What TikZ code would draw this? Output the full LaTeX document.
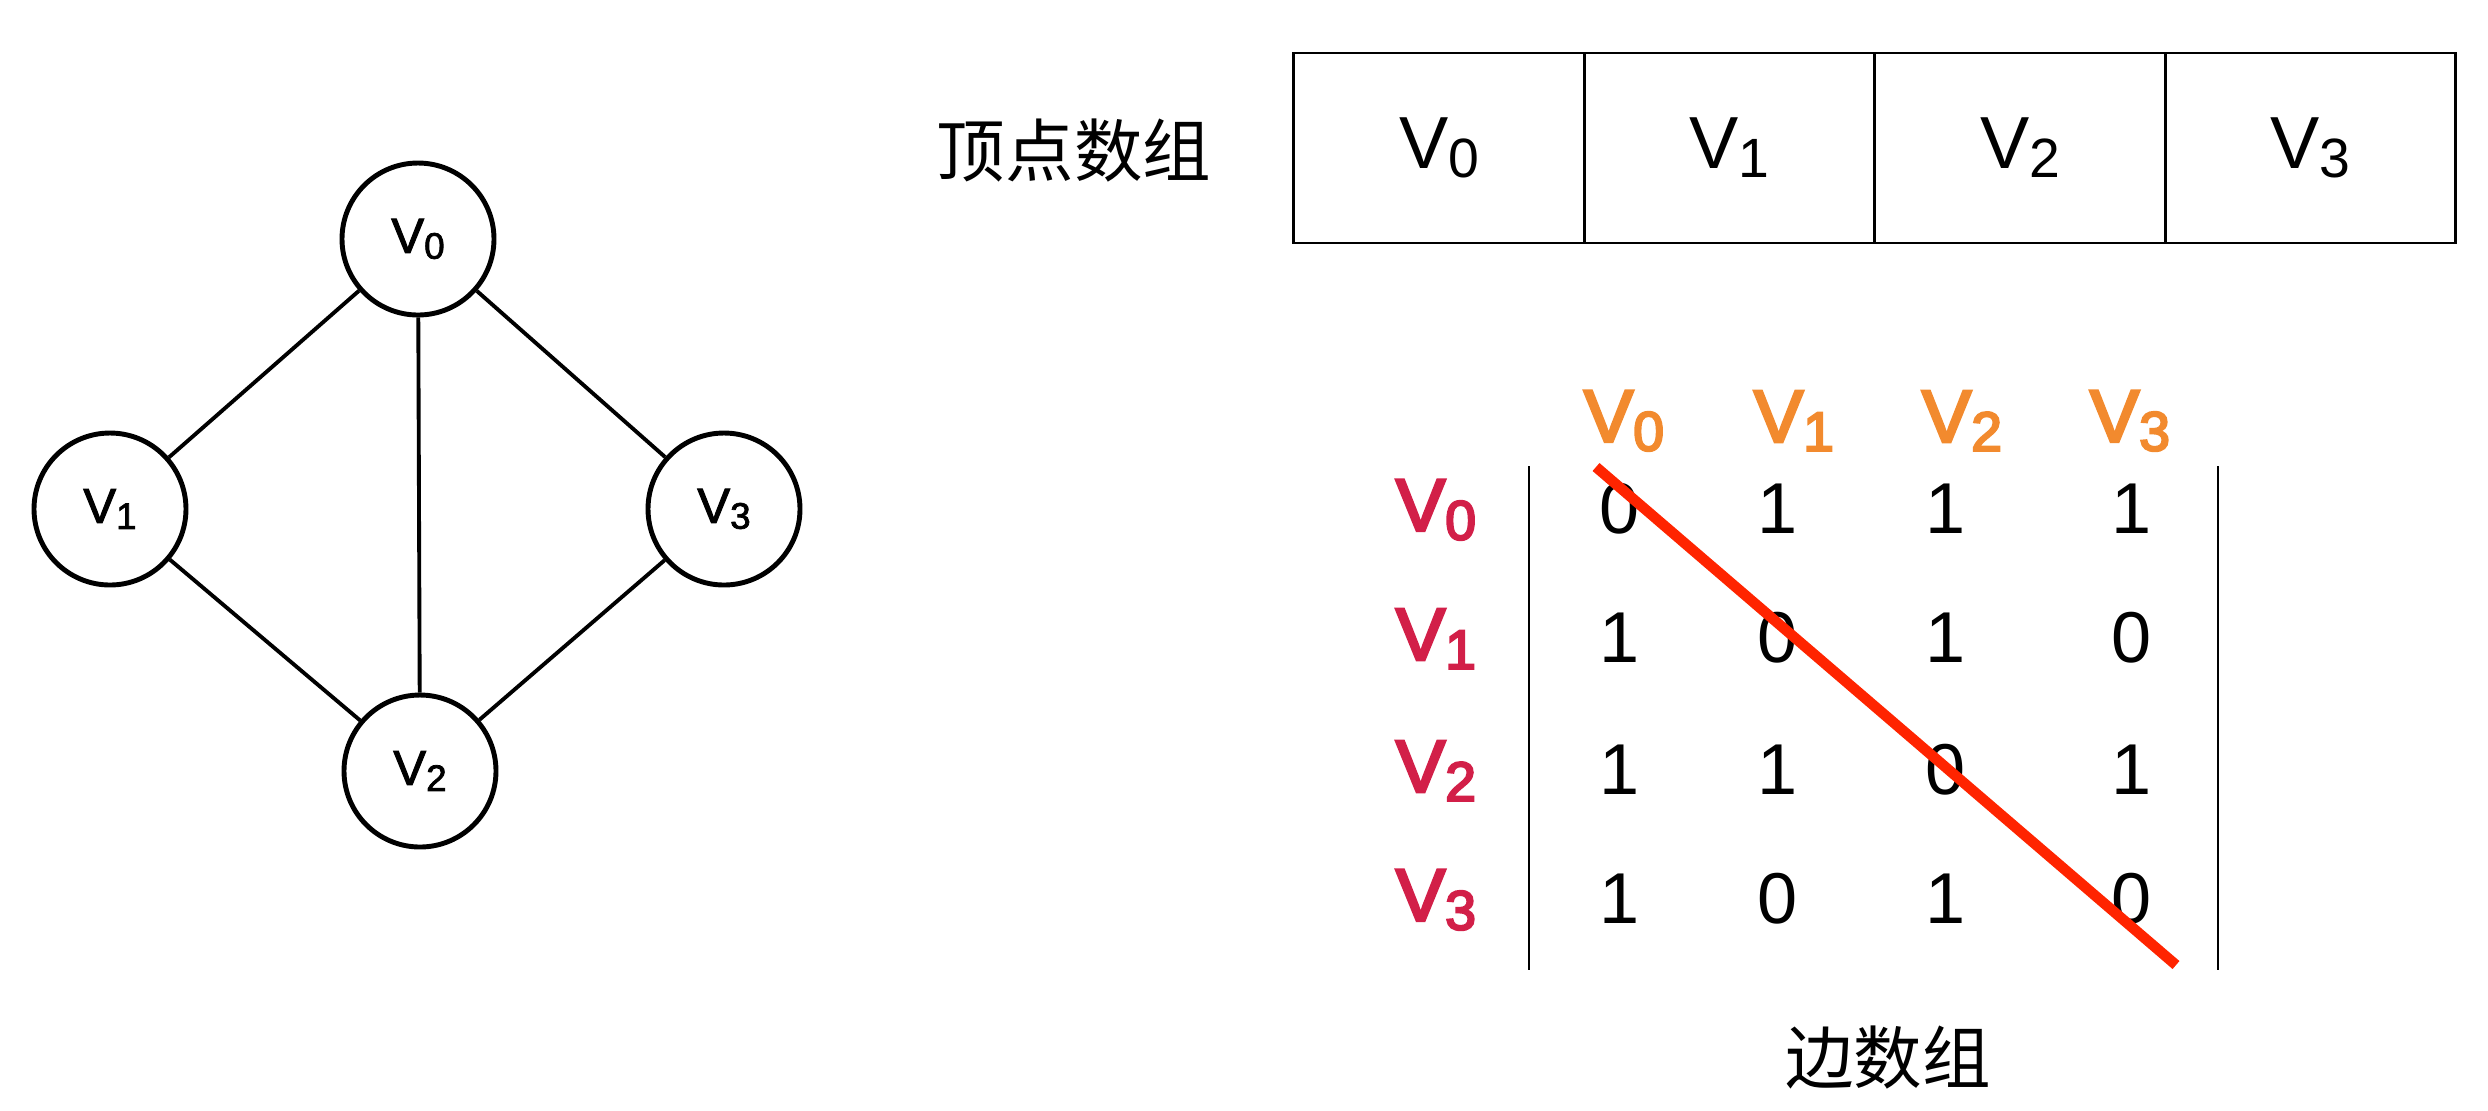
\documentclass[tikz,border=0pt]{standalone}
\usepackage{graphicx}
\usepackage{fontspec}
\setmainfont{Liberation Sans}
\newfontfamily\cjkfont{Noto Sans CJK SC}
\newfontfamily\headfont[FakeBold=4]{Liberation Sans}
\newfontfamily\nodefont[FakeBold=2]{Liberation Sans}
\definecolor{headorange}{HTML}{F28A2E}
\definecolor{rowred}{HTML}{D21F48}
\definecolor{diagred}{HTML}{FF2400}
\newcommand{\vsub}[1]{V\raisebox{-0.12em}{\scalebox{0.75}{#1}}}

\begin{document}
\begin{tikzpicture}[-]
            \tikzstyle{vertex}=[circle,draw=black,line width=1.4pt,fill=white,minimum size=1.52cm,inner sep=0pt,font=\nodefont\fontsize{14}{16}\selectfont]
            \tikzstyle{cell}=[draw=black,line width=0.8pt,minimum width=2.905cm,minimum height=1.9cm,inner sep=0pt,font=\fontsize{21}{24}\selectfont]
            \tikzstyle{entry}=[inner sep=0pt,font=\fontsize{20.5}{24}\selectfont]
            \tikzstyle{colhead}=[inner sep=0pt,text=headorange,font=\headfont\fontsize{21}{24}\selectfont]
            \tikzstyle{rowhead}=[inner sep=0pt,text=rowred,font=\headfont\fontsize{21}{24}\selectfont]
            \tikzstyle{caption}=[inner sep=0pt,font=\cjkfont\fontsize{19.5}{22}\selectfont]
            \useasboundingbox (0,0) rectangle (24.88,-11.10);
                    % the graph
                    \node[vertex] (V-0) at (4.18,-2.39){\vsub{0}};
                    \node[vertex] (V-1) at (1.10,-5.09){\vsub{1}};
                    \node[vertex] (V-2) at (4.20,-7.71){\vsub{2}};
                    \node[vertex] (V-3) at (7.24,-5.09){\vsub{3}};

                \foreach \from/\to in {0/1, 0/2, 0/3, 1/2, 2/3}
                    \draw[line width=1.1pt] (V-\from) -- (V-\to);

                    % vertex array
                    \node[caption] (varr) at (10.74,-1.51){顶点数组};
                \foreach \i in {0,1,2,3}
                    \node[cell] (A-\i) at (14.39+2.905*\i,-1.48){\vsub{\i}};

                    % edge array
                \foreach \i/\x in {0/16.24, 1/17.94, 2/19.62, 3/21.30}
                    \node[colhead] (C-\i) at (\x,-4.21){\vsub{\i}};
                \foreach \i/\y in {0/5.10, 1/6.39, 2/7.71, 3/9.00}
                    \node[rowhead] (R-\i) at (14.36,-\y){\vsub{\i}};
                \foreach \r/\y/\vals in {0/5.09/{0,1,1,1}, 1/6.38/{1,0,1,0}, 2/7.70/{1,1,0,1}, 3/8.99/{1,0,1,0}}
                    \foreach \v [count=\c from 0] in \vals
                        \node[entry] (M-\r-\c) at ({16.20+(\c==1)*1.58+(\c==2)*3.26+(\c==3)*5.12},-\y){\v};

                    \coordinate (bar-l1) at (15.29,-4.66);
                    \coordinate (bar-l2) at (15.29,-9.70);
                    \coordinate (bar-r1) at (22.18,-4.66);
                    \coordinate (bar-r2) at (22.18,-9.70);
                    \draw[line width=0.6pt] (bar-l1) -- (bar-l2);
                    \draw[line width=0.6pt] (bar-r1) -- (bar-r2);

                    \coordinate (diag-s) at (15.96,-4.67);
                    \coordinate (diag-e) at (21.76,-9.65);
                    \draw[diagred,line width=3pt] (diag-s) -- (diag-e);

                    \node[caption] (earr) at (18.88,-10.57){边数组};
        \end{tikzpicture}
\end{document}
